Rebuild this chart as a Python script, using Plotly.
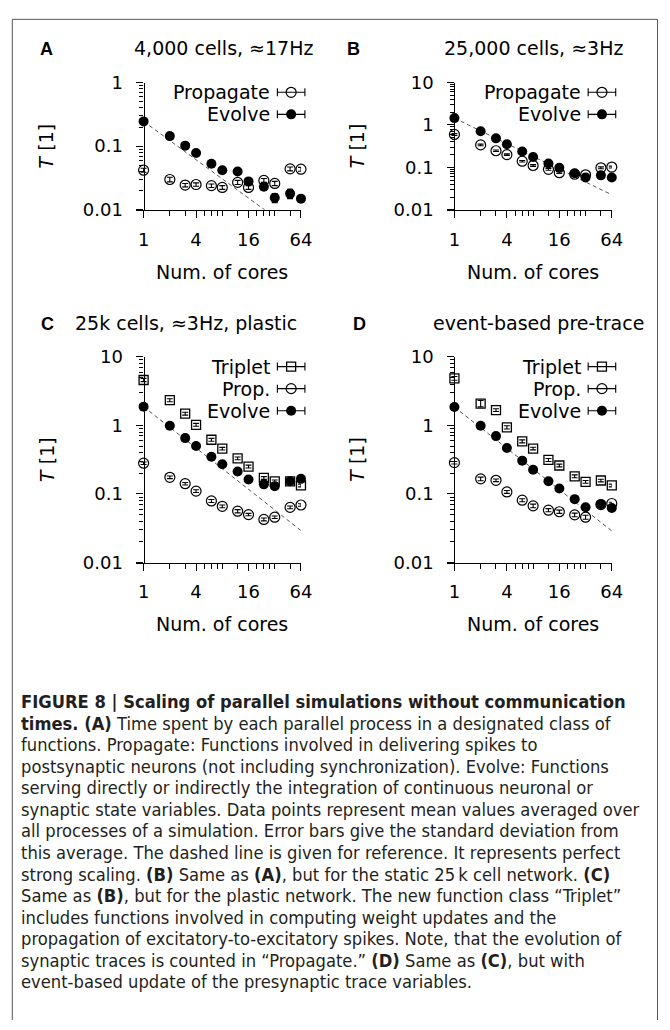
import plotly.graph_objects as go

W, H = 670, 1030
FONT = "DejaVu Sans"
LETTER_FONT = "Liberation Sans"
CAP_FONT = "DejaVu Sans Condensed, Liberation Sans Narrow, Liberation Sans, sans-serif"

# ---- data -------------------------------------------------------------
cores = [1, 2, 3, 4, 6, 8, 12, 16, 24, 32, 48, 64]
x_tick_vals = [1, 4, 16, 64]
x_tick_text = ["1", "4", "16", "64"]
x_minor_vals = [2, 3, 5, 6, 7, 8, 12, 20, 24, 28, 32, 48]
y_tick_vals = [0.01, 0.1, 1, 10]
y_tick_text = ["0.01", "0.1", "1", "10"]
y_minor_vals = [m * d for d in (0.01, 0.1, 1) for m in range(2, 10)]

# (A) 4,000 cells, ~17 Hz
a_prop = [0.042, 0.030, 0.0245, 0.025, 0.024, 0.0225, 0.027, 0.0225, 0.029, 0.026, 0.044, 0.0435]
a_prop_err = [0.003, 0.0025, 0.0015, 0.0015, 0.0015, 0.0015, 0.002, 0.0015, 0.002, 0.002, 0.003, 0.003]
a_evolve = [0.245, 0.144, 0.102, 0.078, 0.053, 0.042, 0.040, 0.028, 0.023, 0.0155, 0.018, 0.015]
a_evolve_err = [0.005, 0.003, 0.002, 0.0015, 0.001, 0.001, 0.001, 0.0015, 0.0015, 0.0025, 0.003, 0.0012]

# (B) 25,000 cells, ~3 Hz
b_prop = [0.598, 0.339, 0.247, 0.200, 0.140, 0.111, 0.090, 0.075, 0.069, 0.067, 0.098, 0.102]
b_prop_err = [0.03, 0.015, 0.01, 0.008, 0.006, 0.005, 0.004, 0.003, 0.003, 0.003, 0.005, 0.005]
b_evolve = [1.45, 0.714, 0.484, 0.352, 0.238, 0.176, 0.124, 0.098, 0.073, 0.058, 0.065, 0.058]
b_evolve_err = [0.04, 0.02, 0.012, 0.008, 0.006, 0.004, 0.003, 0.003, 0.002, 0.002, 0.002, 0.002]

# (C) 25k cells, ~3 Hz, plastic
c_triplet = [4.59, 2.33, 1.48, 1.02, 0.617, 0.458, 0.330, 0.251, 0.171, 0.153, 0.153, 0.133]
c_triplet_err = [0.25, 0.12, 0.07, 0.05, 0.03, 0.02, 0.015, 0.012, 0.008, 0.007, 0.007, 0.006]
c_prop = [0.281, 0.175, 0.141, 0.110, 0.079, 0.066, 0.056, 0.050, 0.0425, 0.0458, 0.0637, 0.069]
c_prop_err = [0.012, 0.008, 0.006, 0.005, 0.004, 0.003, 0.003, 0.002, 0.002, 0.002, 0.003, 0.003]
c_evolve = [1.87, 0.99, 0.652, 0.501, 0.349, 0.271, 0.213, 0.162, 0.138, 0.130, 0.153, 0.166]
c_evolve_err = [0.05, 0.03, 0.02, 0.012, 0.008, 0.006, 0.005, 0.004, 0.004, 0.004, 0.004, 0.004]

# (D) event-based pre-trace
d_triplet = [4.85, 2.08, 1.67, 0.936, 0.585, 0.459, 0.313, 0.260, 0.181, 0.150, 0.157, 0.133]
d_triplet_err = [0.3, 0.22, 0.08, 0.05, 0.03, 0.02, 0.015, 0.012, 0.009, 0.007, 0.007, 0.006]
d_prop = [0.286, 0.166, 0.158, 0.107, 0.081, 0.067, 0.058, 0.055, 0.0495, 0.0458, 0.070, 0.0726]
d_prop_err = [0.012, 0.01, 0.007, 0.005, 0.004, 0.004, 0.003, 0.003, 0.003, 0.003, 0.003, 0.003]
d_evolve = [1.85, 0.99, 0.697, 0.469, 0.306, 0.225, 0.153, 0.120, 0.084, 0.064, 0.071, 0.0625]
d_evolve_err = [0.05, 0.03, 0.02, 0.012, 0.008, 0.006, 0.004, 0.003, 0.002, 0.002, 0.002, 0.002]

panel_letters = ["A", "B", "C", "D"]
panel_titles = ["4,000 cells, \u224817Hz", "25,000 cells, \u22483Hz",
                "25k cells, \u22483Hz, plastic", "event-based pre-trace"]
x_title = "Num. of cores"
y_title = "<i>T</i> [1]"

caption_lines = [
    "<b>FIGURE 8 | Scaling of parallel simulations without communication</b>",
    "<b>times. (A)</b> Time spent by each parallel process in a designated class of",
    "functions. Propagate: Functions involved in delivering spikes to",
    "postsynaptic neurons (not including synchronization). Evolve: Functions",
    "serving directly or indirectly the integration of continuous neuronal or",
    "synaptic state variables. Data points represent mean values averaged over",
    "all processes of a simulation. Error bars give the standard deviation from",
    "this average. The dashed line is given for reference. It represents perfect",
    "strong scaling. <b>(B)</b> Same as <b>(A)</b>, but for the static 25\u2009k cell network. <b>(C)</b>",
    "Same as <b>(B)</b>, but for the plastic network. The new function class \u201cTriplet\u201d",
    "includes functions involved in computing weight updates and the",
    "propagation of excitatory-to-excitatory spikes. Note, that the evolution of",
    "synaptic traces is counted in \u201cPropagate.\u201d <b>(D)</b> Same as <b>(C)</b>, but with",
    "event-based update of the presynaptic trace variables.",
]

# ---- marker styles ----------------------------------------------------
STYLES = {
    "triplet": dict(symbol="square-open", size=9, color="black", line=dict(width=1.3, color="black")),
    "prop": dict(symbol="circle-open", size=10, color="black", line=dict(width=1.2, color="black")),
    "evolve": dict(symbol="circle", size=10, color="black", line=dict(width=0)),
}

# panel geometry in pixels: y-axis position, plot top/bottom, log10 y-range
panels = [
    dict(axis_x=146, top=73, bottom=203, yrange=[-2, 0],
         letter_xy=(47, 39), title_xy=(227, 38),
         series=[("Propagate", "prop", a_prop, a_prop_err),
                 ("Evolve", "evolve", a_evolve, a_evolve_err)]),
    dict(axis_x=462, top=73, bottom=203, yrange=[-2, 1],
         letter_xy=(359, 39), title_xy=(542, 38),
         series=[("Propagate", "prop", b_prop, b_prop_err),
                 ("Evolve", "evolve", b_evolve, b_evolve_err)]),
    dict(axis_x=146, top=353, bottom=563, yrange=[-2, 1],
         letter_xy=(48, 319), title_xy=(189, 318),
         series=[("Triplet", "triplet", c_triplet, c_triplet_err),
                 ("Prop.", "prop", c_prop, c_prop_err),
                 ("Evolve", "evolve", c_evolve, c_evolve_err)]),
    dict(axis_x=462, top=353, bottom=563, yrange=[-2, 1],
         letter_xy=(366, 319), title_xy=(547, 318),
         series=[("Triplet", "triplet", d_triplet, d_triplet_err),
                 ("Prop.", "prop", d_prop, d_prop_err),
                 ("Evolve", "evolve", d_evolve, d_evolve_err)]),
]

PLOT_W = 160              # pixels from 1 to 64 cores
LEFT_OVERHANG = 8         # x-axis line reaches a little left of the y-axis
LOG_PER_PX = 1.80618 / PLOT_W

fig = go.Figure()
layout = dict(
    width=W, height=H,
    margin=dict(l=0, r=0, t=0, b=0),
    paper_bgcolor="white", plot_bgcolor="rgba(0,0,0,0)",
    showlegend=False,
)

annotations = []
shapes = []

for i, p in enumerate(panels, start=1):
    xname = "xaxis" if i == 1 else f"xaxis{i}"
    yname = "yaxis" if i == 1 else f"yaxis{i}"
    xref = "x" if i == 1 else f"x{i}"
    yref = "y" if i == 1 else f"y{i}"

    x0 = p["axis_x"] - LEFT_OVERHANG
    x1 = p["axis_x"] + PLOT_W
    layout[xname] = dict(
        type="log", domain=[x0 / W, x1 / W], anchor=yref,
        range=[-LEFT_OVERHANG * LOG_PER_PX, 1.80618], autorange=False,
        showline=True, linecolor="black", linewidth=1.3,
        ticks="outside", ticklen=7, tickwidth=1.2, tickcolor="black",
        tickmode="array", tickvals=x_tick_vals, ticktext=x_tick_text,
        minor=dict(tickmode="array", tickvals=x_minor_vals, ticks="outside",
                   ticklen=5, tickwidth=1, tickcolor="black", showgrid=False),
        showgrid=False, zeroline=False,
        tickfont=dict(family=FONT, size=18, color="black"),
        ticklabelstandoff=6,
    )
    layout[yname] = dict(
        type="log", domain=[1 - p["bottom"] / H, 1 - p["top"] / H],
        anchor="free", position=p["axis_x"] / W,
        range=p["yrange"], autorange=False,
        showline=True, linecolor="black", linewidth=1.3,
        ticks="outside", ticklen=7, tickwidth=1.2, tickcolor="black",
        tickmode="array", tickvals=y_tick_vals, ticktext=y_tick_text,
        minor=dict(tickmode="array", tickvals=y_minor_vals, ticks="outside",
                   ticklen=4, tickwidth=1, tickcolor="black", showgrid=False),
        showgrid=False, zeroline=False,
        tickfont=dict(family=FONT, size=18, color="black"),
        ticklabelstandoff=10,
    )

    # dashed line of perfect strong scaling, from the single-core Evolve time
    evolve_vals = [s for s in p["series"] if s[1] == "evolve"][0][2]
    fig.add_trace(go.Scatter(
        x=cores, y=[evolve_vals[0] / n for n in cores], mode="lines",
        line=dict(color="#555555", width=1, dash="4px,3px"),
        xaxis=xref, yaxis=yref, hoverinfo="skip",
    ))

    for name, key, vals, errs in p["series"]:
        st = STYLES[key]
        fig.add_trace(go.Scatter(
            x=cores, y=vals, mode="markers", name=name,
            marker=dict(symbol=st["symbol"], size=st["size"], color=st["color"], line=st["line"]),
            error_y=dict(type="data", array=errs, visible=True, color="black",
                         thickness=1.1, width=3),
            cliponaxis=False, xaxis=xref, yaxis=yref,
        ))

    # legend rows: label text, then a marker with a horizontal error bar
    for r, (name, key, vals, errs) in enumerate(p["series"]):
        ly = p["top"] + 10 + 22.5 * r
        annotations.append(dict(
            x=p["axis_x"] + 131, y=ly, xref="x5", yref="y5", text=name,
            showarrow=False, xanchor="right", yanchor="middle",
            font=dict(family=FONT, size=19, color="black"),
        ))
        st = STYLES[key]
        fig.add_trace(go.Scatter(
            x=[p["axis_x"] + 150], y=[ly], mode="markers",
            marker=dict(symbol=st["symbol"], size=st["size"], color=st["color"], line=st["line"]),
            error_x=dict(type="constant", value=14, visible=True, color="black",
                         thickness=1.1, width=4),
            xaxis="x5", yaxis="y5", hoverinfo="skip",
        ))

    lx, ly = p["letter_xy"]
    annotations.append(dict(x=lx, y=ly, xref="x5", yref="y5", text=f"<b>{panel_letters[i-1]}</b>",
                            showarrow=False, xanchor="center", yanchor="middle",
                            font=dict(family=LETTER_FONT, size=18, color="black")))
    tx, ty = p["title_xy"]
    annotations.append(dict(x=tx, y=ty, xref="x5", yref="y5", text=panel_titles[i-1],
                            showarrow=False, xanchor="center", yanchor="middle",
                            font=dict(family=FONT, size=19, color="black")))
    annotations.append(dict(x=p["axis_x"] + PLOT_W / 2, y=p["bottom"] + 63, xref="x5", yref="y5",
                            text=x_title, showarrow=False, xanchor="center", yanchor="middle",
                            font=dict(family=FONT, size=19, color="black")))
    annotations.append(dict(x=p["axis_x"] - 99, y=(p["top"] + p["bottom"]) / 2, xref="x5", yref="y5",
                            text=y_title, showarrow=False, textangle=-90,
                            xanchor="center", yanchor="middle",
                            font=dict(family=FONT, size=19, color="black")))

# full-page overlay axes in pixel units, for legend keys, labels and caption
layout["xaxis5"] = dict(domain=[0, 1], range=[0, W], visible=False, fixedrange=True)
layout["yaxis5"] = dict(domain=[0, 1], range=[H, 0], visible=False, fixedrange=True, anchor="x5")

for k, line in enumerate(caption_lines):
    annotations.append(dict(
        x=19, y=705 + 22 * k, xref="x5", yref="y5", text=line,
        showarrow=False, xanchor="left", yanchor="middle",
        font=dict(family=CAP_FONT, size=18.2, color="#231f20"),
    ))

# frame around the figure (open at the bottom)
shapes.append(dict(type="path", xref="x5", yref="y5",
                   path="M 12.5 1040 L 12.5 8.5 L 668.5 8.5 L 668.5 1040",
                   line=dict(color="#555555", width=1)))

layout["annotations"] = annotations
layout["shapes"] = shapes
fig.update_layout(**layout)

fig.write_html("out.html")
